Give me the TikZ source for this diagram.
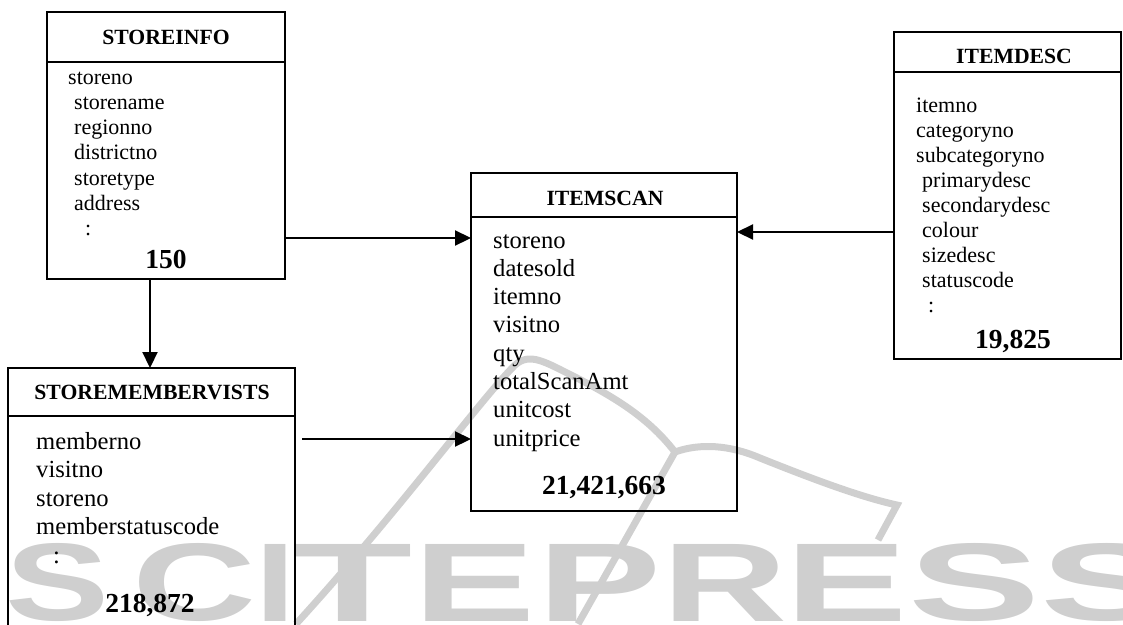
\documentclass[tikz,border=0pt]{standalone}
\usepackage{graphicx}
\usepackage{fontspec}
\setmainfont{Liberation Serif}
\newfontfamily\wmfont{Liberation Sans}
\usetikzlibrary{arrows.meta}
\definecolor{wmgray}{RGB}{207,207,207}
\begin{document}
\begin{tikzpicture}[x=1pt,y=-1pt,
  ent/.style={draw, line width=1.8pt, inner sep=0pt, outer sep=0pt, rectangle},
  hline/.style={line width=1.6pt},
  conn/.style={line width=2.2pt, -{Triangle[length=16pt,width=15pt]}},
  ttl/.style={anchor=base, inner sep=0pt, font=\fontsize{21.7}{26}\selectfont\bfseries},
  cnt/.style={anchor=base, inner sep=0pt, font=\fontsize{27.5}{32}\selectfont\bfseries},
  attS/.style={anchor=base west, inner sep=0pt, font=\fontsize{22}{25}\selectfont},
  attL/.style={anchor=base west, inner sep=0pt, font=\fontsize{24.6}{28}\selectfont},
  wm/.style={anchor=south west, inner sep=0pt, text=wmgray, font=\wmfont\bfseries},
  wmline/.style={draw=wmgray, line width=7pt}
]
\useasboundingbox (0,0) rectangle (1123,624);
\clip (0,0) rectangle (1123,624);

% watermark
\foreach \ch/\xx/\ww [count=\k] in {S/5/104, C/132/124, I/255/40, T/292/120, E/413/122, P/537/124, R/662/125, E/785/122, S/908/132, S/1040/132}
  \node[wm] (wm\k) at (\xx,622) {\resizebox{\ww pt}{77pt}{\ch}};
\draw[wmline] (296,624) .. controls (400,510) and (480,400) .. (515,365)
  .. controls (530,352) and (545,362) .. (575,377)
  .. controls (620,400) and (650,420) .. (675,452);
\draw[wmline] (675,452) .. controls (700,443) and (730,445) .. (760,458)
  .. controls (810,478) and (860,497) .. (897,505) -- (878,540);
\draw[wmline] (675,452) -- (578,624);

% entity boxes
\node[ent, minimum width=238pt, minimum height=267pt] (si) at (166,145.5) {};
\node[ent, minimum width=287pt, minimum height=292pt] (smv) at (151.5,514) {};
\node[ent, minimum width=266pt, minimum height=338pt] (is) at (604,342) {};
\node[ent, minimum width=227pt, minimum height=327pt] (id) at (1007.5,195.5) {};

% header lines
\draw[hline] (si.west |- 0,62) -- (si.east |- 0,62);
\draw[hline] (smv.west |- 0,416) -- (smv.east |- 0,416);
\draw[hline] (is.west |- 0,217) -- (is.east |- 0,217);
\draw[hline] (id.west |- 0,72) -- (id.east |- 0,72);

% titles
\node[ttl] (si-t) at (166,44) {STOREINFO};
\node[ttl] (smv-t) at (152,399) {STOREMEMBERVISTS};
\node[ttl] (is-t) at (605,205) {ITEMSCAN};
\node[ttl] (id-t) at (1014,63) {ITEMDESC};

% STOREINFO attributes
\node[attS] (si-a0) at (68,84) {storeno};
\foreach \t/\yy [count=\k] in {storename/109.3, regionno/134.6, districtno/159.9, storetype/185.2, address/210.5}
  \node[attS] (si-a\k) at (74,\yy) {\t};
\node[attS] (si-dots) at (85,235.8) {:};
\node[cnt] (si-n) at (166,268) {150};

% STOREMEMBERVISTS attributes
\foreach \t/\yy [count=\k] in {memberno/449, visitno/477.5, storeno/506, memberstatuscode/534.5}
  \node[attL] (smv-a\k) at (36,\yy) {\t};
\node[attL] (smv-dots) at (53,563) {:};
\node[cnt] (smv-n) at (150,612) {218,872};

% ITEMSCAN attributes
\foreach \t/\yy [count=\k] in {storeno/248, datesold/276.3, itemno/304.6, visitno/332.9, qty/361.2, totalScanAmt/389.5, unitcost/417.8, unitprice/446.1}
  \node[attL] (is-a\k) at (493,\yy) {\t};
\node[cnt] (is-n) at (604,494) {21,421,663};

% ITEMDESC attributes
\foreach \t/\yy [count=\k] in {itemno/112, categoryno/137, subcategoryno/162}
  \node[attS] (id-a\k) at (916,\yy) {\t};
\foreach \t/\yy [count=\k] in {primarydesc/187, secondarydesc/212, colour/237, sizedesc/262, statuscode/287}
  \node[attS] (id-b\k) at (922,\yy) {\t};
\node[attS] (id-dots) at (928,312) {:};
\node[cnt] (id-n) at (1013,348) {19,825};

% connectors
\draw[conn] (si.east |- 0,238) -- (is.west |- 0,238);
\draw[conn] (si.south -| 150,0) -- (smv.north -| 150,0);
\draw[conn, shorten <=7pt] (smv.east |- 0,439) -- (is.west |- 0,439);
\draw[conn] (id.west |- 0,232) -- (is.east |- 0,232);
\end{tikzpicture}
\end{document}
